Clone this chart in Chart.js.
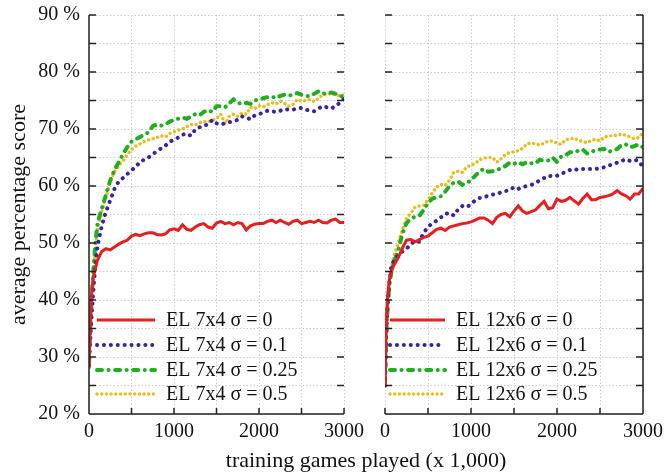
<!DOCTYPE html>
<html>
<head>
<meta charset="utf-8">
<script src="https://cdn.jsdelivr.net/npm/chart.js@4"></script>
<style>
  body { margin: 0; background: #fff; }
  #wrap { position: relative; width: 669px; height: 473px; }
  canvas { position: absolute; top: 0; }
  #left { left: 0; }
  #right { left: 370px; }
  #xtitle {
    position: absolute; left: 89px; width: 554px; top: 448px;
    text-align: center; font: 22px "Liberation Serif", serif; line-height: 24px; color: #111;
  }
</style>
</head>
<body>
<div id="wrap">
  <canvas id="left" width="370" height="473"></canvas>
  <canvas id="right" width="299" height="473"></canvas>
  <div id="xtitle">training games played (x 1,000)</div>
</div>
<script>
// x positions (thousands of games)
const xs = [0, 15, 30, 50, 75, 100,
  150, 200, 250, 300, 350, 400, 450, 500,
  550, 600, 650, 700, 750, 800, 850, 900, 950, 1000,
  1050, 1100, 1150, 1200, 1250, 1300, 1350, 1400, 1450, 1500,
  1550, 1600, 1650, 1700, 1750, 1800, 1850, 1900, 1950, 2000,
  2050, 2100, 2150, 2200, 2250, 2300, 2350, 2400, 2450, 2500,
  2550, 2600, 2650, 2700, 2750, 2800, 2850, 2900, 2950, 3000];

// EL 7x4
const redL = [28, 36, 41, 44, 45.5, 47,
  48.5, 49, 48.8, 49.3, 49.8, 50.2, 50.5, 51.2,
  51.5, 51.3, 51.6, 51.8, 51.8, 51.5, 51.4, 51.6, 52.3, 52.5,
  52.2, 53.2, 52.4, 52.2, 52.8, 53.2, 53.4, 52.8, 52.6, 53.5,
  53.8, 53.4, 53.6, 53.2, 53.6, 53.4, 52.3, 53.0, 53.3, 53.4,
  53.4, 53.8, 54.0, 53.6, 54.0, 53.6, 53.3, 53.8, 54.0, 53.4,
  53.6, 53.8, 53.6, 54.0, 53.6, 53.5, 54.0, 54.2, 53.6, 53.6];
const blueL = [28.5, 33, 37, 41.5, 46, 49.5,
  53, 55.5, 57.5, 59.5, 60.8, 61.4, 62.1, 62.8,
  63.3, 64.3, 64.6, 65.0, 65.6, 66.1, 66.6, 67.1, 67.8, 68.1,
  68.5, 69.0, 69.2, 68.8, 69.9, 70.3, 70.6, 70.8, 71.6, 71.0,
  70.8, 71.0, 71.2, 71.4, 71.6, 72.2, 72.0, 71.7, 72.4, 72.6,
  72.9, 73.2, 73.1, 73.0, 73.2, 73.5, 73.4, 73.4, 73.6, 73.7,
  73.4, 73.2, 73.1, 73.6, 74.0, 73.8, 73.6, 74.0, 74.6, 75.3];
const greenL = [29, 35, 40, 45, 50, 53.5,
  56, 58.5, 61, 62.8, 64.2, 65.6, 66.8, 67.8,
  68.2, 68.6, 69.0, 69.4, 70.5, 70.8, 70.6, 70.8, 71.3, 71.6,
  71.8, 72.0, 71.8, 72.2, 72.6, 72.4, 73.0, 73.3, 73.0, 74.0,
  74.0, 73.8, 74.5, 75.2, 74.6, 74.4, 74.6, 74.4, 75.0, 75.2,
  75.4, 75.6, 75.7, 75.4, 75.8, 76.0, 75.8, 76.1, 76.3, 76.0,
  75.8, 75.8, 76.2, 76.6, 76.2, 76.3, 76.4, 76.2, 75.8, 75.7];
const yellowL = [28.5, 34.5, 39.5, 44.5, 49, 52.5,
  55.5, 58, 60.8, 62.5, 63.6, 64.4, 65.5, 66.4,
  67.0, 67.4, 67.8, 68.1, 68.3, 68.5, 68.8, 68.6, 69.2, 69.5,
  69.8, 70.0, 70.4, 70.8, 70.7, 71.1, 71.3, 71.2, 71.5, 71.8,
  72.6, 70.9, 72.2, 72.6, 72.2, 72.8, 72.6, 73.8, 73.6, 74.1,
  73.9, 74.3, 74.6, 74.4, 74.9, 74.5, 74.0, 74.3, 75.2, 74.9,
  75.0, 75.2, 74.8, 75.4, 76.0, 76.1, 76.2, 76.0, 75.8, 76.0];

// EL 12x6
const redR = [25, 36, 40.5, 43.5, 45, 46,
  47.3, 49, 50.5, 50.6, 50.2, 50.6, 51.0, 51.2,
  51.8, 52.4, 52.6, 52.2, 52.8, 53.0, 53.2, 53.4, 53.5, 53.7,
  54.0, 54.4, 54.4, 54.0, 53.4, 54.5, 55.0, 55.2, 54.6, 55.6,
  56.5, 55.6, 55.2, 55.5, 55.8, 56.6, 57.3, 56.0, 56.2, 57.7,
  57.3, 57.5, 58.0, 57.4, 56.8, 57.8, 58.6, 57.6, 57.6, 58.0,
  58.1, 58.3, 58.6, 59.2, 58.6, 58.3, 57.7, 58.6, 58.6, 59.6];
const blueR = [25, 34, 39, 43, 46, 46.8,
  47.8, 48.5, 49.0, 49.8, 50.4, 50.2, 51.8, 52.8,
  53.5, 53.9, 54.5, 55.1, 55.3, 54.8, 55.9, 56.5, 56.3, 56.8,
  57.5, 57.9, 58.0, 58.3, 58.5, 58.6, 58.9, 59.1, 59.3, 59.8,
  59.5, 59.8, 60.0, 60.2, 60.5, 61.0, 61.4, 61.8, 61.7, 61.8,
  62.2, 62.4, 62.8, 63.0, 62.8, 63.0, 63.0, 63.0, 63.0, 63.1,
  63.3, 63.6, 63.8, 64.1, 64.4, 64.7, 64.4, 64.6, 64.4, 63.3];
const greenR = [25, 34, 38.5, 42.5, 45, 46.5,
  48.5, 51.5, 53.5, 54.3, 54.6, 54.8, 55.8, 57.0,
  57.8, 58.0, 58.2, 59.0, 60.0, 60.6, 60.8, 60.2, 60.5, 61.0,
  61.8, 62.6, 63.0, 62.5, 62.6, 62.8, 63.1, 63.5, 64.1, 63.9,
  64.2, 63.8, 64.2, 64.0, 64.0, 64.6, 64.4, 64.5, 65.0, 64.2,
  65.2, 65.4, 65.9, 65.9, 66.2, 66.4, 65.7, 66.0, 66.3, 66.4,
  66.5, 66.0, 66.2, 66.5, 67.2, 67.3, 66.8, 67.0, 67.3, 66.8];
const yellowR = [25, 34.5, 39.5, 43.5, 46, 47.5,
  49.8, 52.2, 54.3, 55.2, 56.3, 56.5, 56.6, 57.6,
  58.8, 59.8, 60.3, 60.1, 61.0, 62.4, 62.6, 62.4, 63.4, 63.6,
  64.0, 64.6, 64.9, 65.0, 65.0, 64.2, 64.8, 65.5, 65.9, 66.0,
  66.2, 66.6, 67.4, 67.5, 67.4, 67.2, 67.5, 67.9, 67.9, 67.5,
  67.3, 68.1, 68.3, 68.4, 68.0, 67.8, 67.6, 68.0, 68.2, 67.9,
  68.6, 68.8, 68.8, 68.9, 69.1, 68.9, 68.6, 68.3, 68.5, 69.4];

const sigmas = ['0', '0.1', '0.25', '0.5'];
const FONT = '"Liberation Serif", serif';

// line looks for sigma = 0, 0.1, 0.25, 0.5
const styles = [
  { borderColor: '#e3201f', borderWidth: 3, borderDash: [], borderCapStyle: 'butt' },
  { borderColor: '#3a22a4', borderWidth: 4, borderDash: [0.1, 6.8], borderCapStyle: 'round' },
  { borderColor: '#1fae1f', borderWidth: 4, borderDash: [5, 6.5, 0.1, 6.5], borderCapStyle: 'round' },
  { borderColor: '#e8bd24', borderWidth: 3.4, borderDash: [0.1, 4.6], borderCapStyle: 'round' }
];

function series(name, arrs) {
  return arrs.map((arr, i) => Object.assign({
    label: 'EL ' + name + ' σ = ' + sigmas[i],
    data: xs.map((x, j) => ({ x: x, y: arr[j] })),
    pointRadius: 0,
    tension: 0,
    fill: false
  }, styles[i]));
}

// inward ticks and solid edges like the original plot
const frame = {
  id: 'frame',
  afterDraw(chart, args, opts) {
    const { ctx, chartArea: a, scales: { x, y } } = chart;
    ctx.save();
    ctx.strokeStyle = '#222';
    ctx.lineWidth = 1.5;
    ctx.beginPath();
    const edge = opts.side === 'left' ? a.left : a.right;
    ctx.moveTo(edge, a.top);
    ctx.lineTo(edge, a.bottom);
    ctx.moveTo(a.left, a.bottom);
    ctx.lineTo(a.right, a.bottom);
    y.ticks.forEach(t => {
      const py = y.getPixelForValue(t.value);
      ctx.moveTo(a.left, py); ctx.lineTo(a.left + 7, py);
      ctx.moveTo(a.right, py); ctx.lineTo(a.right - 7, py);
    });
    x.ticks.forEach(t => {
      const px = x.getPixelForValue(t.value);
      ctx.moveTo(px, a.bottom); ctx.lineTo(px, a.bottom - 6);
    });
    ctx.stroke();
    ctx.restore();
  }
};

// legend drawn inside the plot, bottom left
const insideLegend = {
  id: 'insideLegend',
  afterDatasetsDraw(chart, args, opts) {
    const { ctx, chartArea: a } = chart;
    ctx.save();
    chart.data.datasets.forEach((ds, i) => {
      const y = a.bottom - opts.rows[i];
      const x0 = a.left + opts.x0;
      ctx.beginPath();
      ctx.strokeStyle = ds.borderColor;
      ctx.lineWidth = ds.borderWidth;
      ctx.lineCap = ds.borderCapStyle;
      ctx.setLineDash(ds.borderDash);
      ctx.moveTo(x0, y);
      ctx.lineTo(x0 + opts.len, y);
      ctx.stroke();
      ctx.setLineDash([]);
      ctx.fillStyle = '#111';
      ctx.font = '20px ' + FONT;
      ctx.textBaseline = 'middle';
      ctx.fillText(ds.label, x0 + opts.len + opts.gap, y + 1);
    });
    ctx.restore();
  }
};

function makeChart(id, datasets, isLeft) {
  return new Chart(document.getElementById(id), {
    type: 'line',
    data: { datasets: datasets },
    plugins: [frame, insideLegend],
    options: {
      responsive: false,
      animation: false,
      layout: { padding: { top: 15, right: isLeft ? 22 : 26, bottom: 0, left: 0 } },
      plugins: {
        legend: { display: false },
        tooltip: { enabled: false },
        frame: { side: isLeft ? 'left' : 'right' },
        insideLegend: isLeft
          ? { rows: [94, 69, 44, 20], x0: 8, len: 58, gap: 11 }
          : { rows: [94, 69, 44, 20], x0: 5, len: 55, gap: 11 }
      },
      scales: {
        x: {
          type: 'linear', min: 0, max: 3000,
          afterFit: s => { s.height = 59; },
          border: { display: false, dash: [1.5, 2] },
          grid: { color: '#cccccc', drawTicks: false },
          ticks: {
            stepSize: 500, autoSkip: false, maxRotation: 0, padding: 6,
            color: '#111', font: { family: FONT, size: 20 },
            callback: v => (v % 1000 === 0 ? String(v) : '')
          }
        },
        y: {
          min: 20, max: 90,
          afterFit: s => {
            s.width = isLeft ? 89 : 15;
            s.paddingTop = 0;
            s.paddingBottom = 0;
          },
          border: { display: false, dash: [1.5, 2] },
          grid: { color: '#cccccc', drawTicks: false },
          title: {
            display: isLeft, text: 'average percentage score', color: '#111',
            font: { family: FONT, size: 22 }, padding: { top: 6, bottom: 0 }
          },
          ticks: {
            display: isLeft, stepSize: 5, autoSkip: false, padding: 9,
            color: '#111', font: { family: FONT, size: 20 },
            callback: v => (v % 10 === 0 ? v + ' %' : '')
          }
        }
      }
    }
  });
}

makeChart('left', series('7x4', [redL, blueL, greenL, yellowL]), true);
makeChart('right', series('12x6', [redR, blueR, greenR, yellowR]), false);
</script>
</body>
</html>
